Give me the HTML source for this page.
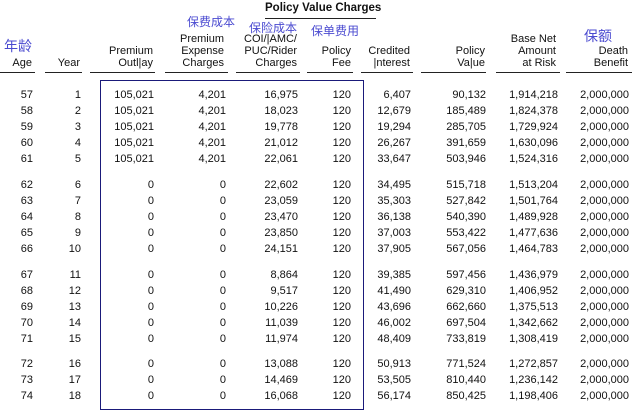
<!DOCTYPE html>
<html><head><meta charset="utf-8"><style>
body{margin:0;width:644px;height:412px;background:#fff;overflow:hidden;font-family:"Liberation Sans",Arial,sans-serif;font-size:11px;color:#111;position:relative}
.a{position:absolute;white-space:nowrap}
.r{text-align:right}
.c{position:absolute;color:#4a4ad0;font-family:"Liberation Sans","Noto Sans CJK SC",sans-serif;white-space:nowrap}
.ul{position:absolute;height:1px;background:#222;top:72px}
.h{position:absolute;text-align:right;line-height:12px;white-space:nowrap}
</style></head><body>
<div class="a" style="left:265px;top:2px;font-weight:bold;font-size:11.5px">Policy Value Charges</div>
<div class="a" style="left:265px;top:18px;width:111px;height:1px;background:#222"></div>
<div class="c" style="left:187px;top:13px;font-size:12px">保费成本</div>
<div class="c" style="left:249px;top:19px;font-size:12px">保险成本</div>
<div class="c" style="left:311px;top:22px;font-size:12px">保单费用</div>
<div class="c" style="left:4px;top:36px;font-size:14px">年龄</div>
<div class="c" style="left:584px;top:26px;font-size:14px">保额</div>
<div class="h" style="right:612px;top:57px">Age</div>
<div class="h" style="right:564px;top:57px">Year</div>
<div class="h" style="right:491px;top:45px">Premium<br>Outl|ay</div>
<div class="h" style="right:420px;top:33px">Premium<br>Expense<br>Charges</div>
<div class="h" style="right:347px;top:33px">COI/|AMC/<br>PUC/Rider<br>Charges</div>
<div class="h" style="right:293px;top:45px">Policy<br>Fee</div>
<div class="h" style="right:234px;top:45px">Credited<br>|nterest</div>
<div class="h" style="right:159px;top:45px">Policy<br>Va|ue</div>
<div class="h" style="right:88px;top:33px">Base Net<br>Amount<br>at Risk</div>
<div class="h" style="right:16px;top:45px">Death<br>Benefit</div>
<div class="ul" style="left:0;width:35px"></div>
<div class="ul" style="left:45px;width:37px"></div>
<div class="ul" style="left:90px;width:65px"></div>
<div class="ul" style="left:165px;width:63px"></div>
<div class="ul" style="left:236px;width:64px"></div>
<div class="ul" style="left:307px;width:46px"></div>
<div class="ul" style="left:361px;width:52px"></div>
<div class="ul" style="left:421px;width:65px"></div>
<div class="ul" style="left:496px;width:64px"></div>
<div class="ul" style="left:566px;width:66px"></div>
<div class="a" style="left:100px;top:80px;width:262px;height:328px;border:1.5px solid #1a1a7a"></div>
<div id="t"></div>
<script>
var d=[
[57,1,"105,021","4,201","16,975",120,"6,407","90,132","1,914,218"],
[58,2,"105,021","4,201","18,023",120,"12,679","185,489","1,824,378"],
[59,3,"105,021","4,201","19,778",120,"19,294","285,705","1,729,924"],
[60,4,"105,021","4,201","21,012",120,"26,267","391,659","1,630,096"],
[61,5,"105,021","4,201","22,061",120,"33,647","503,946","1,524,316"],
[62,6,0,0,"22,602",120,"34,495","515,718","1,513,204"],
[63,7,0,0,"23,059",120,"35,303","527,842","1,501,764"],
[64,8,0,0,"23,470",120,"36,138","540,390","1,489,928"],
[65,9,0,0,"23,850",120,"37,003","553,422","1,477,636"],
[66,10,0,0,"24,151",120,"37,905","567,056","1,464,783"],
[67,11,0,0,"8,864",120,"39,385","597,456","1,436,979"],
[68,12,0,0,"9,517",120,"41,490","629,310","1,406,952"],
[69,13,0,0,"10,226",120,"43,696","662,660","1,375,513"],
[70,14,0,0,"11,039",120,"46,002","697,504","1,342,662"],
[71,15,0,0,"11,974",120,"48,409","733,819","1,308,419"],
[72,16,0,0,"13,088",120,"50,913","771,524","1,272,857"],
[73,17,0,0,"14,469",120,"53,505","810,440","1,236,142"],
[74,18,0,0,"16,068",120,"56,174","850,425","1,198,406"]];
var R=[33,81,154,226,298,351,411,486,558,629],h="";
d.forEach(function(r,i){var g=Math.floor(i/5),y=89+i*16+g*10-(g==3?1:0);
r=r.concat(["2,000,000"]);
r.forEach(function(v,j){h+='<div class="a r" style="right:'+(644-R[j])+'px;top:'+y+'px">'+v+'</div>';});});
document.getElementById("t").innerHTML=h;
</script>
</body></html>
